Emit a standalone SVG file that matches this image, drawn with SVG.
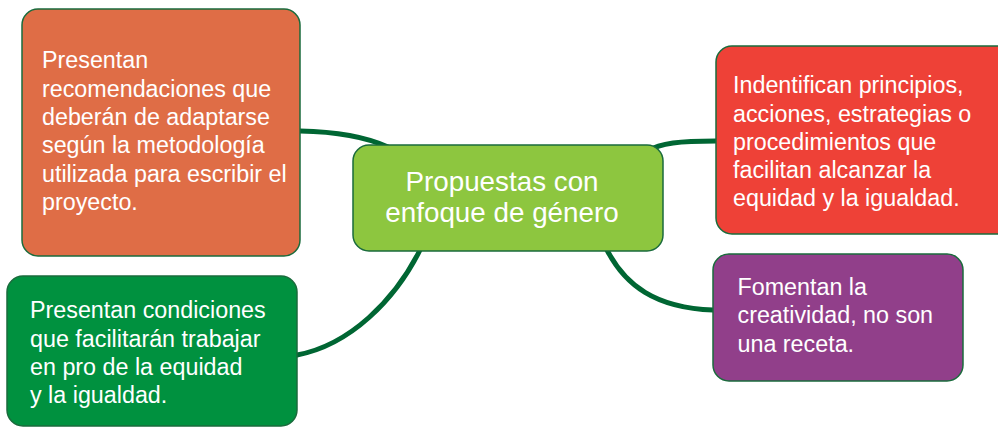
<svg xmlns="http://www.w3.org/2000/svg" width="998" height="427" viewBox="0 0 998 427">
<style>
.box{stroke:#1a6b3c;stroke-width:1.5}
.t{font-family:"Liberation Sans",Arial,sans-serif;font-size:23.3px;fill:#ffffff}
.c{font-family:"Liberation Sans",Arial,sans-serif;font-size:27.8px;fill:#ffffff;text-anchor:middle}
.link{fill:none;stroke:#006633;stroke-width:5;stroke-linecap:round}
</style>
<rect width="998" height="427" fill="#ffffff"/>
<g id="connectors">
<path class="link" d="M300,131 Q355,132 388,147"/>
<path class="link" d="M648,151 C660,143 680,141 716,141"/>
<path class="link" d="M420,250 C395,300 350,345 297,355"/>
<path class="link" d="M607,250 C625,285 655,308 713,310"/>
</g>
<g id="n-orange">
<rect class="box" x="22" y="9" width="278" height="247" rx="16" fill="#df6d46"/>
<text class="t" x="42" y="68">Presentan</text>
<text class="t" x="42" y="96.5">recomendaciones que</text>
<text class="t" x="42" y="125">deberán de adaptarse</text>
<text class="t" x="42" y="153.3">según la metodología</text>
<text class="t" x="42" y="181.7">utilizada para escribir el</text>
<text class="t" x="42" y="210">proyecto.</text>
</g>
<g id="n-center">
<rect class="box" x="353" y="145" width="310" height="106" rx="16" fill="#8dc63f"/>
<text class="c" x="502" y="191">Propuestas con</text>
<text class="c" x="502" y="222">enfoque de género</text>
</g>
<g id="n-red">
<rect class="box" x="716" y="46" width="296" height="188" rx="16" fill="#ee4137"/>
<text class="t" x="733" y="93.3">Indentifican principios,</text>
<text class="t" x="733" y="121.6">acciones, estrategias o</text>
<text class="t" x="733" y="149.8">procedimientos que</text>
<text class="t" x="733" y="178">facilitan alcanzar la</text>
<text class="t" x="733" y="206.3">equidad y la igualdad.</text>
</g>
<g id="n-green">
<rect class="box" x="7" y="276" width="290" height="150" rx="16" fill="#00913f"/>
<text class="t" x="30" y="318.3">Presentan condiciones</text>
<text class="t" x="30" y="346.6">que facilitarán trabajar</text>
<text class="t" x="30" y="374.9">en pro de la equidad</text>
<text class="t" x="30" y="403.2">y la igualdad.</text>
</g>
<g id="n-purple">
<rect class="box" x="713" y="254" width="250" height="127" rx="16" fill="#913f8a"/>
<text class="t" x="737.5" y="295">Fomentan la</text>
<text class="t" x="737.5" y="323.3">creatividad, no son</text>
<text class="t" x="737.5" y="351.6">una receta.</text>
</g>
</svg>
